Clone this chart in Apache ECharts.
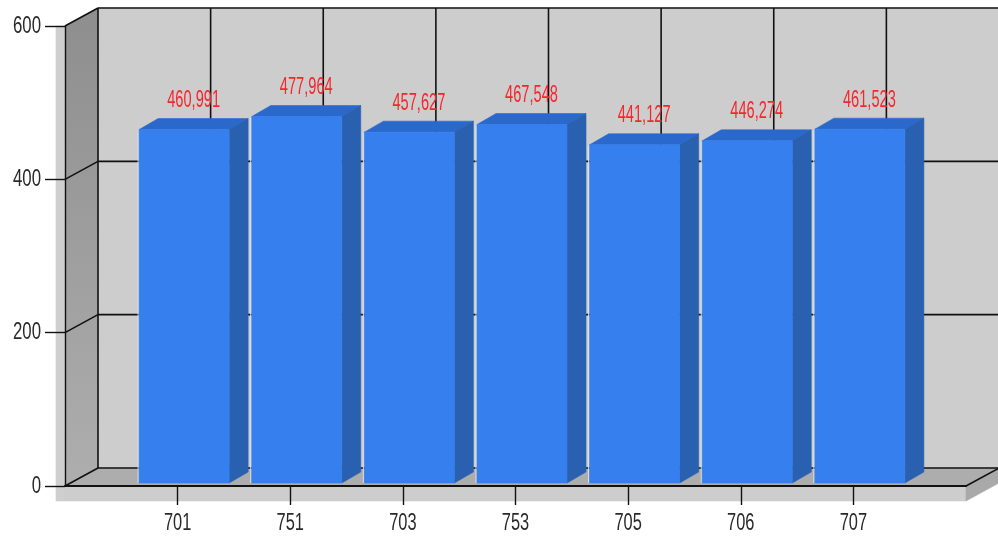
<!DOCTYPE html>
<html>
<head>
<meta charset="utf-8">
<style>html,body{margin:0;background:#fff}#chart{width:998px;height:537px}</style>
<script src="https://cdn.jsdelivr.net/npm/echarts@6/dist/echarts.min.js"></script>
</head>
<body>
<div id="chart"></div>
<script>
// Category slots: the blank ends give the plot its half-open margins
const categories = ['', '701', '751', '703', '753', '705', '706', '707', ''];
const barCategories = ['701', '751', '703', '753', '705', '706', '707'];
const barValues = [460.991, 477.964, 457.627, 467.548, 441.127, 446.274, 461.523];
const valueTicks = [0, 200, 400, 600];

// Extrusion of the box and of the bars, in pixels
const BOX_DX = 33, BOX_DY = -18;
const BAR_DX = 19, BAR_DY = -11;
const BAR_W = 90, BAR_SHIFT_X = 6.5, BAR_SHIFT_Y = -3;
const FONT = '20px "Liberation Sans", Arial, sans-serif';

const line = (x1, y1, x2, y2, w, stroke) => ({
  type: 'line',
  shape: { x1, y1, x2, y2 },
  style: { stroke: stroke || '#111', lineWidth: w || 1.6 }
});
const poly = (points, fill) => ({
  type: 'polygon',
  shape: { points },
  style: { fill, stroke: fill, lineWidth: 0.6 }
});
// Condensed, tall lettering is obtained by scaling a regular face
const label = (text, x, y, align, fill, scaleX, scaleY) => ({
  type: 'text',
  x, y, scaleX, scaleY,
  z2: 10,
  style: { x: 0, y: 0, text, fill, font: FONT, align, verticalAlign: 'middle' }
});

// Walls, floor, back-plane grid and axis lettering of the 3D box
function renderBox(params, api) {
  const [x0, y0] = api.coord([0, 0]);
  const [x1, yTop] = api.coord([categories.length - 1, 600]);
  const bx0 = x0 + BOX_DX, bx1 = x1 + BOX_DX;
  const by0 = y0 + BOX_DY, byTop = yTop + BOX_DY;
  const children = [
    poly([[x0 - 9, yTop], [x0, yTop], [x0, y0 + 15], [x0 - 9, y0 + 15]], '#cfcfcf'),
    poly([[x0, y0], [x1, y0], [x1, y0 + 15], [x0, y0 + 15]], '#cdcdcd'),
    poly([[x1, y0], [bx1, by0], [bx1, by0 + 15], [x1, y0 + 15]], '#a9a9a9'),
    poly([[bx0, byTop], [bx1, byTop], [bx1, by0], [bx0, by0]], '#cdcdcd'),
    poly([[x0, y0], [bx0, by0], [bx1, by0], [x1, y0]], '#adadad'),
    {
      type: 'polygon',
      shape: { points: [[x0, yTop], [bx0, byTop], [bx0, by0], [x0, y0]] },
      style: {
        fill: new echarts.graphic.LinearGradient(0, 0, 0, 1, [
          { offset: 0, color: '#8e8e8e' },
          { offset: 1, color: '#aeaeae' }
        ])
      }
    },
    line(bx0, byTop, bx0, by0),
    line(x1, y0, bx1, by0)
  ];
  valueTicks.forEach((t) => {
    const y = api.coord([0, t])[1];
    children.push(line(x0, y, bx0, y + BOX_DY));
    children.push(line(bx0, y + BOX_DY, bx1, y + BOX_DY));
    children.push(label(String(t), x0 - 24, y, 'right', '#2a2a2a', 0.84, 1.22));
  });
  barCategories.forEach((c) => {
    const x = api.coord([c, 0])[0];
    children.push(line(x + BOX_DX, byTop, x + BOX_DX, by0));
    children.push(label(c, x, y0 + 37, 'center', '#2a2a2a', 0.82, 1.2));
  });
  return { type: 'group', children };
}

// One extruded bar: pale left edge, top, side and front faces, value above
function renderBar(params, api) {
  const [cx, yBase] = api.coord([api.value(0), 0]);
  const yVal = api.coord([api.value(0), api.value(1)])[1];
  const l = cx + BAR_SHIFT_X - BAR_W / 2, r = l + BAR_W;
  const t = yVal + BAR_SHIFT_Y, b = yBase + BAR_SHIFT_Y;
  return {
    type: 'group',
    children: [
      line(l - 1, t + 1, l - 1, b, 1, '#dde2e8'),
      poly([[l, t], [l + BAR_DX, t + BAR_DY], [r + BAR_DX, t + BAR_DY], [r, t]], '#2b68cb'),
      poly([[r, t], [r + BAR_DX, t + BAR_DY], [r + BAR_DX, b + BAR_DY], [r, b]], '#2a60b0'),
      poly([[l, t], [r, t], [r, b], [l, b]], '#3580ee'),
      label(
        api.value(1).toFixed(3).replace('.', ','),
        cx + 16, t + BAR_DY - 18, 'center', '#f5262c', 0.73, 1.18
      )
    ]
  };
}

const chart = echarts.init(document.getElementById('chart'), null, { renderer: 'canvas' });
chart.setOption({
  animation: false,
  backgroundColor: '#fff',
  grid: { left: 65, right: 32, top: 26, bottom: 51, containLabel: false },
  xAxis: {
    type: 'category',
    data: categories,
    boundaryGap: false,
    z: 6,
    axisLine: { lineStyle: { color: '#111', width: 2 } },
    axisTick: {
      length: 19,
      interval: (i, v) => v !== '',
      lineStyle: { color: '#111', width: 1.4 }
    },
    axisLabel: { show: false },
    splitLine: { show: false }
  },
  yAxis: {
    type: 'value',
    min: 0,
    max: 600,
    interval: 200,
    z: 6,
    axisLine: { show: true, lineStyle: { color: '#111', width: 1.4 } },
    axisTick: { show: true, length: 20, lineStyle: { color: '#111', width: 1.4 } },
    axisLabel: { show: false },
    splitLine: { show: false }
  },
  series: [
    {
      type: 'custom',
      name: 'box',
      z: 1,
      silent: true,
      clip: false,
      renderItem: renderBox,
      data: [[0, 0]]
    },
    {
      type: 'custom',
      name: 'bars',
      z: 2,
      clip: false,
      renderItem: renderBar,
      encode: { x: 0, y: 1 },
      data: barCategories.map((c, i) => [categories.indexOf(c), barValues[i]])
    }
  ]
});
</script>
</body>
</html>
